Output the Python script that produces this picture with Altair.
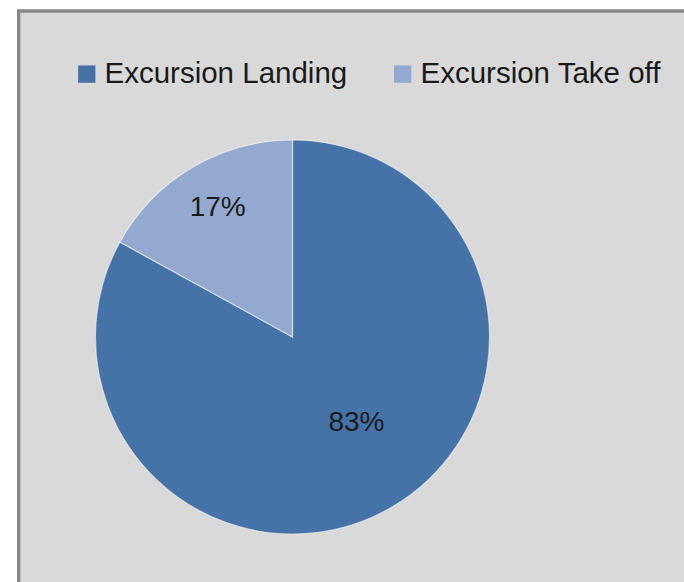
import altair as alt
import pandas as pd

categories = ["Excursion Landing", "Excursion Take off"]
values = [83, 17]
labels = ["83%", "17%"]
orders = [0, 1]
colors = ["#4572a7", "#94a9d0"]

df = pd.DataFrame({"category": categories, "value": values, "label": labels, "order": orders})

W, H = 667, 572
CX, CY = 275.5, 327
R = 197
FONT = "Liberation Sans"

theta_scale = alt.Scale(domain=[0, 100])

base = alt.Chart(df)

pie = base.mark_arc(outerRadius=R, stroke="white", strokeWidth=1.2, strokeOpacity=0.55).encode(
    theta=alt.Theta("value:Q", stack=True, scale=theta_scale),
    color=alt.Color(
        "category:N",
        scale=alt.Scale(domain=categories, range=colors),
        legend=alt.Legend(
            title=None, orient="none", legendX=55, legendY=49, direction="horizontal",
            symbolType="square", symbolSize=300, symbolStrokeWidth=0, symbolOpacity=1,
            labelFont=FONT, labelFontSize=29.5, labelColor="#1a1a1a", labelOffset=3,
            columnPadding=40, labelLimit=500,
        ),
    ),
    order=alt.Order("order:Q"),
    x=alt.value(CX),
    y=alt.value(CY),
)

def label_layer(cat, radius, dx, dy):
    return base.transform_window(
        cum="sum(value)", sort=[alt.SortField("order")]
    ).transform_calculate(
        mid="datum.cum - datum.value / 2"
    ).transform_filter(
        alt.datum.category == cat
    ).mark_text(
        radius=radius, dx=dx, dy=dy, font=FONT, fontSize=28, color="#1a1a1a",
        align="center", baseline="middle",
    ).encode(
        theta=alt.Theta("mid:Q", stack=None, scale=theta_scale),
        text="label:N",
        x=alt.value(CX),
        y=alt.value(CY),
    )

lab_land = label_layer("Excursion Landing", 108, 9, -7)
lab_take = label_layer("Excursion Take off", 147, 0, -2)

left_border = base.mark_rule(color="#878787", strokeWidth=3).encode(
    x=alt.value(1.7), y=alt.value(0), y2=alt.value(H)
)
top_border = base.mark_rule(color="#878787", strokeWidth=3).encode(
    y=alt.value(1), x=alt.value(0), x2=alt.value(W)
)

chart = alt.layer(pie, lab_land, lab_take, left_border, top_border).properties(
    width=W, height=H,
    padding={"left": 17, "top": 10, "right": 0, "bottom": 0},
    autosize=alt.AutoSizeParams(type="none"),
    background="white",
).configure_view(fill="#d9d9d9", stroke="transparent")

chart.save("out.html", embed_options={"renderer": "svg", "actions": False})
